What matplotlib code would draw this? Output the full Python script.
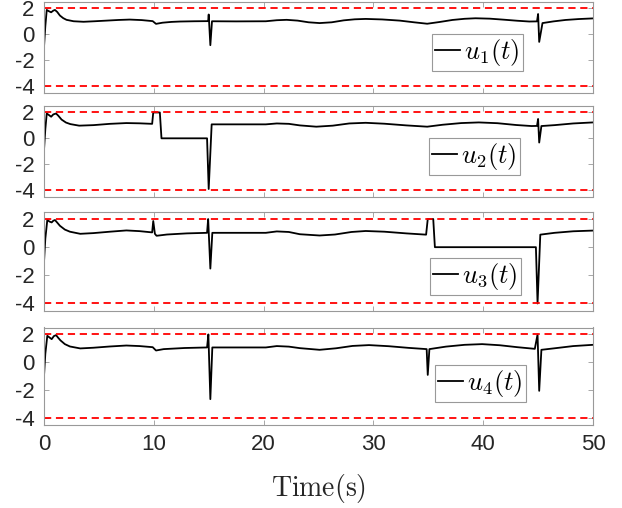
import numpy as np
import matplotlib
matplotlib.use("Agg")
import matplotlib.pyplot as plt

plt.rcParams['mathtext.fontset'] = 'cm'
plt.rcParams['font.family'] = ['Liberation Sans', 'DejaVu Sans']

# control inputs (time in s)
t1 = [0, 0.12, 0.25, 0.45, 0.65, 0.85, 1.0, 1.2, 1.45, 1.75, 2.05, 2.7, 3.6, 4.6, 5.7, 6.8, 7.8,
      8.9, 9.9, 10.2, 10.8, 11.6, 12.4, 13.7, 14.95, 15.0, 15.15, 15.3, 17.5, 20.2, 21.2, 22.1,
      23.1, 24.1, 25.1, 26.2, 27.3, 28.3, 29.3, 30.8, 32.4, 33.7, 34.9, 36.0, 37.2, 38.3, 39.3,
      40.6, 41.9, 43.1, 44.2, 44.9, 45.0, 45.1, 45.4, 46.4, 47.5, 48.7, 50]
u1 = [-1.0, 0.6, 1.85, 1.75, 1.67, 1.8, 1.85, 1.7, 1.42, 1.22, 1.09, 0.98, 0.94, 0.98, 1.03, 1.08, 1.11,
      1.07, 0.99, 0.78, 0.87, 0.93, 0.96, 0.98, 0.99, 1.5, -0.86, 0.98, 0.97, 0.98, 1.06, 1.09,
      1.03, 0.9, 0.84, 0.9, 1.05, 1.13, 1.16, 1.12, 1.03, 0.9, 0.79, 0.92, 1.08, 1.17, 1.21,
      1.18, 1.1, 1.02, 0.96, 0.97, 1.54, -0.61, 0.84, 0.97, 1.08, 1.15, 1.2]

t2 = [0, 0.12, 0.25, 0.45, 0.65, 0.85, 1.1, 1.3, 1.6, 2.0, 2.4, 3.2, 4.5, 6.0, 7.5, 8.7, 9.85,
      9.95, 10.55, 10.7, 14.85, 15.0, 15.27, 17.5, 20.2, 21.2, 22.3, 23.3, 24.8, 26.3, 27.8,
      29.3, 31.0, 33.0, 34.9, 36.3, 38.0, 39.6, 41.3, 43.0, 44.4, 44.9, 45.0, 45.1, 45.3,
      46.5, 48.2, 50]
u2 = [-0.9, 0.7, 1.92, 1.8, 1.67, 1.85, 1.92, 1.75, 1.45, 1.22, 1.1, 0.98, 1.02, 1.12, 1.18, 1.16, 1.12,
      2.0, 2.0, 0.0, 0.0, -3.92, 1.08, 1.08, 1.08, 1.15, 1.12, 1.0, 0.9, 0.98, 1.15,
      1.2, 1.13, 1.0, 0.9, 1.05, 1.18, 1.23, 1.17, 1.03, 0.95, 0.96, 1.5, -0.33, 0.95,
      1.02, 1.15, 1.23]

t3 = [0, 0.12, 0.3, 0.5, 0.7, 0.85, 1.0, 1.2, 1.45, 1.9, 2.36, 3.3, 4.5, 6.0, 7.5, 8.7, 9.85,
      9.95, 10.1, 10.25, 11.2, 13.0, 14.85, 14.95, 15.15, 15.33, 17.5, 20.2, 21.2, 22.3, 23.3,
      25.1, 26.5, 28.0, 29.3, 31.0, 33.0, 34.8, 34.95, 35.45, 35.6, 44.8, 44.95, 45.2, 46.5,
      48.2, 50]
u3 = [-1.05, 0.6, 1.93, 1.82, 1.76, 1.88, 1.93, 1.75, 1.52, 1.25, 1.1, 0.95, 1.0, 1.1, 1.19, 1.14, 1.05,
      1.86, 0.95, 0.81, 0.9, 0.98, 1.02, 2.0, -1.52, 1.02, 1.02, 1.02, 1.12, 1.08, 0.92,
      0.83, 0.9, 1.08, 1.15, 1.1, 0.98, 0.89, 2.0, 2.0, 0.0, 0.0, -4.0, 0.89, 1.02,
      1.13, 1.18]

t4 = [0, 0.12, 0.3, 0.5, 0.7, 0.9, 1.1, 1.3, 1.5, 1.9, 2.36, 3.3, 4.5, 6.0, 7.5, 8.7, 9.9,
      10.2, 10.9, 12.8, 14.85, 14.97, 15.15, 15.33, 17.5, 20.2, 21.2, 22.3, 23.3, 25.1, 26.6,
      28.1, 29.6, 31.4, 33.2, 34.85, 34.95, 35.1, 36.6, 38.3, 39.9, 41.5, 43.1, 44.7, 44.95,
      45.1, 45.3, 46.5, 48.2, 50]
u4 = [-1.0, 0.6, 1.9, 1.78, 1.66, 1.88, 1.95, 1.75, 1.57, 1.3, 1.13, 0.99, 1.04, 1.13, 1.2, 1.16, 1.08,
      0.84, 0.94, 1.02, 1.06, 2.0, -2.67, 1.06, 1.06, 1.06, 1.16, 1.12, 1.01, 0.89, 1.0,
      1.17, 1.23, 1.15, 1.03, 0.94, -0.92, 0.94, 1.12, 1.25, 1.3, 1.22, 1.08, 0.96, 2.0,
      -2.07, 0.89, 1.0, 1.16, 1.25]

series = [(t1, u1), (t2, u2), (t3, u3), (t4, u4)]
labels = [r'$u_1(t)$', r'$u_2(t)$', r'$u_3(t)$', r'$u_4(t)$']
u_max, u_min = 2, -4
yticks = [-4, -2, 0, 2]
ytick_labels = ['-4', '-2', '0', '2']
xticks = [0, 10, 20, 30, 40, 50]
xtick_labels = ['0', '10', '20', '30', '40', '50']

W, H = 622, 508
fig = plt.figure(figsize=(W / 100, H / 100), dpi=100)

# pixel extents (top, bottom) of each panel and legend anchors
panels = [(1.5, 92.5), (106, 196.5), (212, 310.5), (327.5, 424.5)]
leg_pos = [(0.707, 0.643), (0.701, 0.646), (0.703, 0.533), (0.712, 0.613)]

for k, ((top, bot), (t, u)) in enumerate(zip(panels, series)):
    ax = fig.add_axes([44 / W, 1 - bot / H, 549 / W, (bot - top) / H])
    ax.plot(t, u, color='black', lw=1.3, label=labels[k])
    ax.axhline(u_max, color='#ff0000', lw=1.3, ls=(0, (4, 2.6)))
    ax.axhline(u_min, color='#ff0000', lw=1.3, ls=(0, (4, 2.6)))
    ax.set_xlim(0, 50)
    ax.set_ylim(-4.5, 2.5)
    ax.set_yticks(yticks)
    ax.set_yticklabels(ytick_labels)
    ax.set_xticks(xticks)
    if k == 3:
        ax.set_xticklabels(xtick_labels)
        ax.set_xlabel(r'$\mathrm{Time(s)}$', fontsize=20, labelpad=12, color='#262626')
    else:
        ax.set_xticklabels([])
    ax.tick_params(direction='in', top=True, right=True, length=3.5, width=0.6,
                   color='#999999', labelsize=16, labelcolor='#262626', pad=7)
    for s in ax.spines.values():
        s.set_color('#999999')
        s.set_linewidth(0.8)
    leg = ax.legend(loc='upper left', bbox_to_anchor=leg_pos[k], borderaxespad=0,
                    fontsize=19, handlelength=0.95, handletextpad=0.15, borderpad=0.12,
                    fancybox=False, framealpha=1, edgecolor='#999999')
    leg.get_frame().set_linewidth(0.8)

fig.savefig('out.png', dpi=100)
